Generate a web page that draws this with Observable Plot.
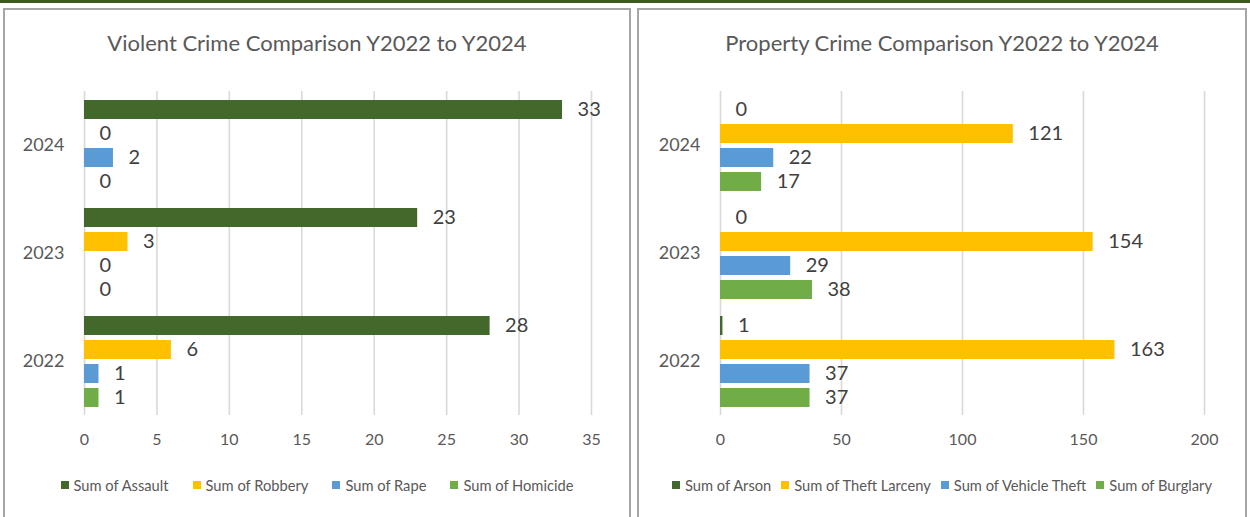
<!DOCTYPE html>
<html><head><meta charset="utf-8">
<script src="https://cdn.jsdelivr.net/npm/d3@7"></script>
<script src="https://cdn.jsdelivr.net/npm/@observablehq/plot@0.6"></script>
<style>
body{margin:0;width:1250px;height:517px;overflow:hidden;background:#fff;font-family:Lato,"Open Sans",sans-serif;position:relative}
.band{position:absolute;left:0;top:0;width:1250px;height:3px;background:#3d5a22}
.panel{position:absolute;top:8px;height:530px;border:2px solid #a6a6a6;box-sizing:border-box;background:#fff}
.title{position:absolute;left:0;right:0;top:20px;text-align:center;color:#595959;font-size:22px;line-height:26px}
.chart{position:absolute;left:0;top:70px}
.legend{position:absolute;left:0;right:0;top:466px;display:flex;justify-content:center;align-items:center;color:#595959;font-size:14.7px;line-height:18px}
.legend .item{display:flex;align-items:center;white-space:nowrap}
.legend .sw{width:8px;height:8px;margin-right:5px}
</style></head>
<body>
<div class="band"></div>
<div class="panel" id="p1" style="left:3px;width:628px"><div class="title" id="t1"></div><div class="chart" id="c1"></div><div class="legend" id="l1"></div></div>
<div class="panel" id="p2" style="left:637px;width:610px"><div class="title" id="t2"></div><div class="chart" id="c2"></div><div class="legend" id="l2"></div></div>
<script>
// ---- data ----
const years = ["2024", "2023", "2022"];
const colors = ["#43682b", "#ffc000", "#5b9bd5", "#70ad47"];

const violentTitle = "Violent Crime Comparison Y2022 to Y2024";
const violentSeries = ["Sum of Assault", "Sum of Robbery", "Sum of Rape", "Sum of Homicide"];
const violentAssault = [33, 23, 28];   // 2024, 2023, 2022
const violentRobbery = [0, 3, 6];
const violentRape = [2, 0, 1];
const violentHomicide = [0, 0, 1];
const violentTicks = [0, 5, 10, 15, 20, 25, 30, 35];

const propertyTitle = "Property Crime Comparison Y2022 to Y2024";
const propertySeries = ["Sum of Arson", "Sum of Theft Larceny", "Sum of Vehicle Theft", "Sum of Burglary"];
const propertyArson = [0, 0, 1];
const propertyTheft = [121, 154, 163];
const propertyVehicle = [22, 29, 37];
const propertyBurglary = [17, 38, 37];
const propertyTicks = [0, 50, 100, 150, 200];

function table(series, cols) {
  const rows = [];
  years.forEach((y, i) => series.forEach((s, j) => rows.push({year: y, series: s, value: cols[j][i]})));
  return rows;
}

function draw({id, title, series, cols, ticks, width, marginLeft, marginRight, gap}) {
  document.getElementById("t" + id).textContent = title;
  const data = table(series, cols);
  const chart = Plot.plot({
    width, height: 376,
    marginTop: 10, marginBottom: 41, marginLeft, marginRight,
    style: {fontFamily: "Lato, 'Open Sans', sans-serif", color: "#595959", background: "transparent"},
    x: {domain: [ticks[0], ticks[ticks.length - 1]]},
    y: {domain: series, paddingInner: 0.22, paddingOuter: 0.32, axis: null},
    fy: {domain: years, padding: 0},
    color: {domain: series, range: colors},
    marks: [
      Plot.gridX(ticks, {stroke: "#d9d9d9", strokeOpacity: 1, strokeWidth: 1.6}),
      Plot.barX(data, {fy: "year", y: "series", x: "value", fill: "series"}),
      Plot.text(data, {fy: "year", y: "series", x: "value", text: d => String(d.value), dx: 15, textAnchor: "start", fontSize: 20, fill: "#404040"}),
      Plot.axisX(ticks, {anchor: "bottom", tickSize: 0, tickPadding: 18, fontSize: 16, label: null, color: "#595959"}),
      Plot.axisFy({anchor: "left", tickSize: 0, tickPadding: 20, fontSize: 18, label: null, color: "#595959"})
    ]
  });
  document.getElementById("c" + id).appendChild(chart);
  const leg = document.getElementById("l" + id);
  series.forEach((s, j) => {
    const it = document.createElement("div");
    it.className = "item";
    if (j > 0) it.style.marginLeft = gap + "px";
    const sw = document.createElement("span");
    sw.className = "sw";
    sw.style.background = colors[j];
    const tx = document.createElement("span");
    tx.textContent = s;
    it.appendChild(sw); it.appendChild(tx);
    leg.appendChild(it);
  });
}

draw({id: 1, title: violentTitle, series: violentSeries, cols: [violentAssault, violentRobbery, violentRape, violentHomicide], ticks: violentTicks, width: 624, marginLeft: 79, marginRight: 38, gap: 24});
draw({id: 2, title: propertyTitle, series: propertySeries, cols: [propertyArson, propertyTheft, propertyVehicle, propertyBurglary], ticks: propertyTicks, width: 606, marginLeft: 81, marginRight: 41, gap: 10});
</script>
</body></html>
